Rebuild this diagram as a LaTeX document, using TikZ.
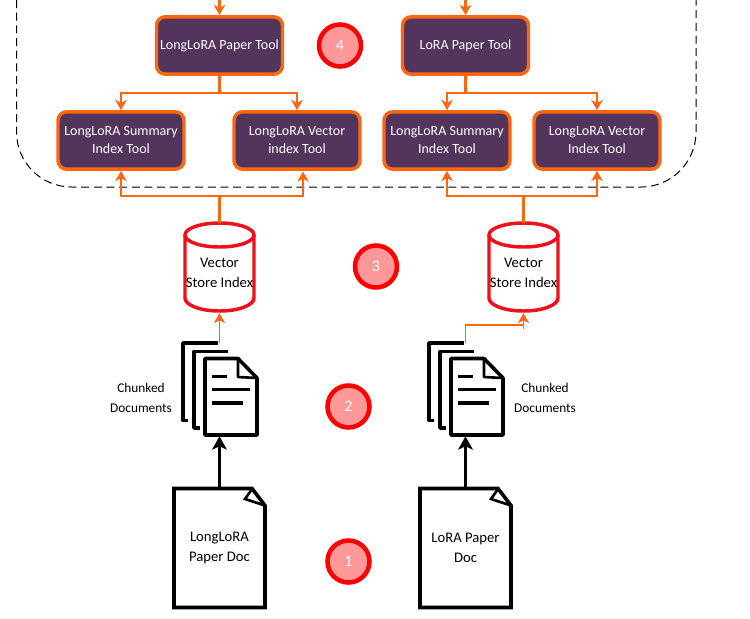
\documentclass[tikz,border=0pt]{standalone}
\usepackage{fontspec}
\setmainfont{Carlito}
\usetikzlibrary{arrows.meta}
\definecolor{toolfill}{HTML}{53345C}
\definecolor{toolline}{HTML}{FF6611}
\definecolor{badgefill}{HTML}{FF9999}
\definecolor{cylred}{HTML}{F0101A}
\tikzset{
  toolbox/.style={draw=toolline,fill=toolfill,line width=2.6pt,rounded corners=6.5pt,minimum width=94.5pt,minimum height=43pt,inner sep=0pt,text=white,align=center,font=\fontsize{10.5}{13.5}\selectfont},
  badge/.style={circle,draw=red,fill=badgefill,line width=3.4pt,minimum size=31.5pt,inner sep=0pt,text=white,font=\fontsize{12}{14}\selectfont},
  flow/.style={draw=toolline,line width=1.4pt,-{Stealth[length=7.5pt,width=8.5pt,inset=2pt]}},
  flowplain/.style={draw=toolline,line width=1.6pt},
  thinflow/.style={draw=toolline,line width=1.2pt},
  docflow/.style={draw=black,line width=2.4pt,-{Stealth[length=10pt,width=11pt,inset=2.5pt]}},
  ink/.style={draw=black,line width=2.7pt,line join=round},
  frame/.style={draw=black,line width=0.75pt,dash pattern=on 6pt off 3.5pt},
  holder/.style={inner sep=0pt,align=center,text=black,font=\fontsize{11}{15}\selectfont},
  caption/.style={inner sep=0pt,align=center,text=black,font=\fontsize{10}{15}\selectfont},
}
% #1 = horizontal centre of the cylinder, #2 = node name
\newcommand{\vectorstore}[2]{%
  \draw[draw=cylred,fill=white,line width=2.6pt]
    (#1-34.5,235) -- (#1-34.5,298) arc[x radius=34.5,y radius=13,start angle=180,end angle=0]
    -- (#1+34.5,235);
  \draw[draw=cylred,fill=white,line width=2.6pt] (#1,235) ellipse[x radius=34.5,y radius=12];
  \node[holder,minimum width=51.75pt,minimum height=68pt] (#2) at (#1,267.5) {~\\Vector\\Store Index};
}
% #1 = x offset, #2 = node name
\newcommand{\chunkstack}[2]{%
  \begin{scope}[shift={(#1,0)}]
    \draw[ink] (218,343) -- (183,343) -- (183,420.5) -- (188,420.5);
    \draw[ink] (228,351.5) -- (194,351.5) -- (194,428) -- (200,428);
    \draw[ink,fill=white] (205,358.5) -- (238,358.5) -- (257,378) -- (257,435) -- (205,435) -- cycle;
    \draw[ink,line width=2pt] (238,358.5) -- (238,377) -- (257,378);
    \draw[ink] (212,376.5) -- (227,376.5) (212,389.5) -- (250,389.5) (212,403) -- (243,403);
    \node[inner sep=0pt,minimum width=39pt,minimum height=58.5pt] (#2) at (231,397) {};
  \end{scope}
}
% #1 = x offset, #2 = node name, #3 = text
\newcommand{\paperdoc}[3]{%
  \begin{scope}[shift={(#1,0)}]
    \draw[ink,fill=white,line join=miter] (174,488.5) -- (252,488.5) -- (265,505.5) -- (265,607.5) -- (174,607.5) -- cycle;
    \draw[ink,line width=2pt,line join=miter] (252,489) -- (245,499) -- (265,505.5);
    \node[holder,minimum width=68pt,minimum height=90pt] (#2) at (219.5,548) {#3};
  \end{scope}
}
\begin{document}
\begin{tikzpicture}[x=0.75pt,y=-0.75pt]
\useasboundingbox (0,0) rectangle (750,618);
\fill[white] (0,0) rectangle (750,618);
% dashed frame
\draw[frame] (16.5,0) -- (16.5,132) arc[radius=55,start angle=180,end angle=90] -- (641,187) arc[radius=55,start angle=90,end angle=0] -- (696,0);
% free ends
\coordinate (inL) at (219.5,0);
\coordinate (inR) at (465.5,0);
% tools
\node[toolbox] (paperL) at (219.5,45.5) {LongLoRA Paper Tool};
\node[toolbox] (paperR) at (465.5,45.5) {LoRA Paper Tool};
\node[toolbox] (sumL) at (121,140.5) {LongLoRA Summary\\Index Tool};
\node[toolbox] (vecL) at (297,140.5) {LongLoRA Vector\\index Tool};
\node[toolbox] (sumR) at (447,140.5) {LongLoRA Summary\\Index Tool};
\node[toolbox] (vecR) at (597,140.5) {LongLoRA Vector\\Index Tool};
% badges
\node[badge] (b4) at (340,45.5) {4};
\node[badge] (b3) at (376,266.5) {3};
\node[badge] (b2) at (348.5,406.5) {2};
\node[badge] (b1) at (348.5,561.5) {1};
% stores, stacks, papers
\vectorstore{219.5}{storeL}
\vectorstore{523.5}{storeR}
\chunkstack{0}{chunkL}
\chunkstack{246}{chunkR}
\paperdoc{0}{docL}{LongLoRA\\Paper Doc}
\paperdoc{246}{docR}{LoRA Paper\\Doc}
\node[caption] (capL) at (141,398) {Chunked\\Documents};
\node[caption] (capR) at (545,398) {Chunked\\Documents};
% connectors
\coordinate (stackL) at (219.5,343);
\coordinate (stackR) at (465.5,343);
\coordinate (stubR) at (523.5,329);
\coordinate (splitTL) at (219.5,93);
\coordinate (splitTR) at (465.5,93);
\coordinate (splitBL) at (219.5,196);
\coordinate (splitBR) at (523.5,196);
\coordinate (vecLin) at (303,171.5);
\draw[flow,line width=1.7pt] (inL) -- (paperL.north);
\draw[flow,line width=1.7pt] (inR) -- (paperR.north);
\draw[flow] (splitTL) -| (sumL.north);
\draw[flow] (splitTL) -| (vecL.north);
\draw[flow] (splitTR) -| (sumR.north);
\draw[flow] (splitTR) -| (vecR.north);
\draw[flow] (splitBL) -| (sumL.south);
\draw[flow] (splitBL) -| (vecLin);
\draw[flow] (splitBR) -| (sumR.south);
\draw[flow] (splitBR) -| (vecR.south);
\draw[flowplain,line cap=rect] (paperL.south) -- (splitTL);
\draw[flowplain,line cap=rect] (paperR.south) -- (splitTR);
\draw[flowplain,line cap=rect] (storeL.north) -- (splitBL);
\draw[flowplain,line cap=rect] (storeR.north) -- (splitBR);
\draw[flow,line width=1.3pt] (stackL) -- (storeL.south);
\draw[thinflow] (stackR) |- (stubR |- 0,325);
\draw[flow,line width=1.3pt] (stubR) -- (storeR.south);
\draw[docflow] (docL.north) -- (docL.north |- chunkL.south);
\draw[docflow] (docR.north) -- (docR.north |- chunkR.south);
\end{tikzpicture}
\end{document}
